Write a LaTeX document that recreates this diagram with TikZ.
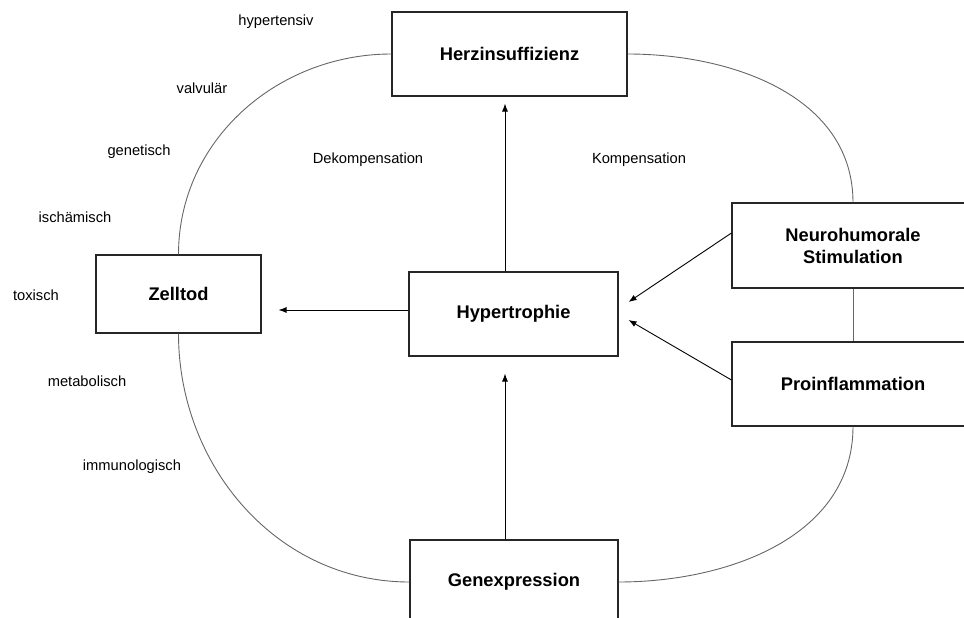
\documentclass[tikz,border=0pt]{standalone}
\usepackage{fontspec}
\setmainfont{Liberation Sans}
\usetikzlibrary{arrows.meta}
\begin{document}
\begin{tikzpicture}[x=1pt,y=-1pt,
  box/.style={draw=black!85,line width=1.1pt,fill=white,inner sep=0pt,align=center,font=\bfseries\fontsize{18.3}{22}\selectfont},
  lbl/.style={inner sep=0pt,font=\fontsize{14.7}{17}\selectfont},
  ring/.style={draw=black!60,line width=0.9pt},
  arr/.style={draw=black,line width=0.9pt,-{Latex[length=8pt,width=6pt]}}]
\useasboundingbox (0,0) rectangle (964,618);
\node[box,minimum width=235pt,minimum height=84pt] (herz) at (509.5,54) {Herzinsuffizienz};
\node[box,minimum width=209pt,minimum height=84pt] (hyp) at (513.5,314) {Hypertrophie};
\node[box,minimum width=165pt,minimum height=78pt] (zell) at (178.5,294) {Zelltod};
\node[box,minimum width=242pt,minimum height=85pt] (neuro) at (853,245.5) {Neurohumorale\\Stimulation};
\node[box,minimum width=242pt,minimum height=84pt] (proinf) at (853,384) {Proinflammation};
\node[box,minimum width=208pt,minimum height=84pt] (gen) at (514,582) {Genexpression};
% ring
\draw[ring] (herz.west) to[out=180,in=90] (zell.north);
\draw[ring] (zell.south) to[out=-90,in=180] (gen.west);
\draw[ring] (gen.east) to[out=0,in=-90] (proinf.south);
\draw[ring] (neuro.north) to[out=90,in=0] (herz.east);
\draw[ring] (neuro.south) -- (proinf.north);
% arrows
\draw[arr,shorten >=7pt] ([xshift=-8.5pt]hyp.north) -- ([xshift=-8.5pt]hyp.north |- herz.south);
\draw[arr,shorten >=17pt] ([yshift=4pt]hyp.west) -- ([yshift=4pt]hyp.west -| zell.east);
\draw[arr,shorten >=17pt] ([xshift=-9pt]gen.north) -- ([xshift=-9pt]gen.north |- hyp.south);
\draw[arr] ([yshift=12.5pt]neuro.west) -- ([xshift=10pt,yshift=12pt]hyp.east);
\draw[arr] ([yshift=4pt]proinf.west) -- ([xshift=10pt,yshift=-6pt]hyp.east);
% labels
\node[lbl] (l1) at (276,22) {hypertensiv};
\node[lbl] (l2) at (202,88) {valvulär};
\node[lbl] (l3) at (139,152) {genetisch};
\node[lbl] (l4) at (75,217) {ischämisch};
\node[lbl] (l5) at (36,295) {toxisch};
\node[lbl] (l6) at (87,381) {metabolisch};
\node[lbl] (l7) at (132,467) {immunologisch};
\node[lbl] (dk) at (368,160) {Dekompensation};
\node[lbl] (k) at (639,160) {Kompensation};
\end{tikzpicture}
\end{document}
